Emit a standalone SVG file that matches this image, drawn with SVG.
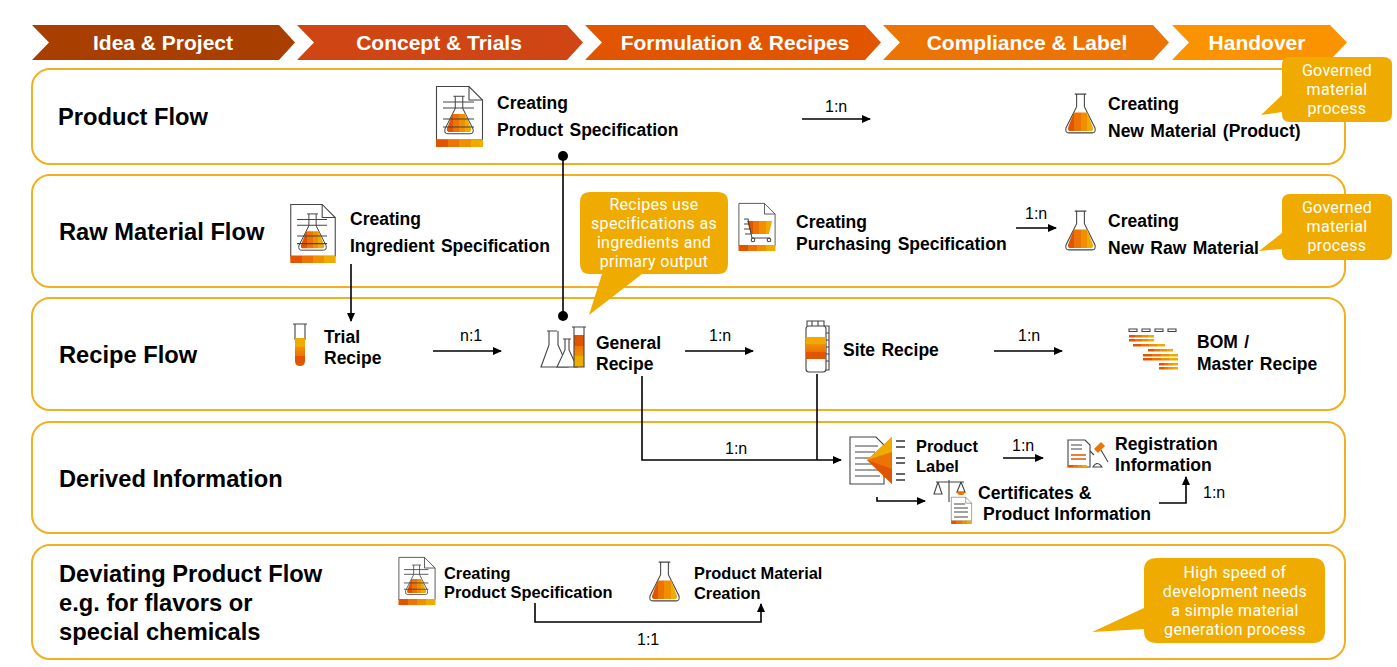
<svg xmlns="http://www.w3.org/2000/svg" width="1397" height="667" viewBox="0 0 1397 667">
<style>
text{font-family:"Liberation Sans",Arial,sans-serif;fill:#000}
.h{font-size:21px;font-weight:700;fill:#fff;text-anchor:middle}
.t{font-size:23.700px;font-weight:700}
.b{font-size:17.500px;font-weight:700;word-spacing:1.500px}
.s{font-size:16.400px;font-weight:700}
.w{font-size:17.600px;font-weight:700}
.r{font-size:16px}
.c{font-family:Roboto,"Noto Sans",sans-serif;font-size:16px;letter-spacing:.3px;fill:#fff;text-anchor:middle}
.p{fill:#fff;stroke:#f0b020;stroke-width:2}
.k{fill:#f0ab00}
.l{fill:none;stroke:#000;stroke-width:1.6}
.o{fill:#fff;stroke:#444;stroke-width:1.100}
.i{fill:none;stroke:#444;stroke-width:1.100}
</style>
<defs>
<marker id="a" markerWidth="9" markerHeight="9" refX="8" refY="4" orient="auto" markerUnits="userSpaceOnUse"><path d="M0 0L9 4L0 8z" fill="#000"/></marker>
<marker id="d" markerWidth="12" markerHeight="12" refX="6" refY="6" orient="auto" markerUnits="userSpaceOnUse"><circle cx="6" cy="6" r="5" fill="#000"/></marker>
<linearGradient id="g"><stop offset="0" stop-color="#e25500"/><stop offset=".25" stop-color="#e25500"/><stop offset=".25" stop-color="#ec7404"/><stop offset=".5" stop-color="#ec7404"/><stop offset=".5" stop-color="#f09000"/><stop offset=".75" stop-color="#f09000"/><stop offset=".75" stop-color="#f0ab00"/><stop offset="1" stop-color="#f0ab00"/></linearGradient>
<linearGradient id="v" x2="0" y2="1"><stop offset="0" stop-color="#f0ab00"/><stop offset=".33" stop-color="#f0ab00"/><stop offset=".33" stop-color="#f09000"/><stop offset=".66" stop-color="#ec7404"/><stop offset=".66" stop-color="#e25500"/><stop offset="1" stop-color="#e25500"/></linearGradient>
<symbol id="flask" viewBox="0 0 32 42" overflow="visible">
<path class="o" d="M10 1H22M12 1V14L1 36Q0 41 4 41H28Q32 41 31 36L20 14V1"/>
<path d="M9 20H23L29 36Q29 39 27 39H5Q3 39 3 36z" fill="url(#g)"/>
</symbol>
<symbol id="doc" viewBox="0 0 47 61" overflow="visible">
<path class="o" d="M0.500 0.500H33L46.500 14V54H0.500z"/><path class="i" d="M33 0.500V14H46.500"/>
<path d="M0 53.500H47V61H0z" fill="url(#g)"/>
</symbol>
<symbol id="specdoc" viewBox="0 0 47 61" overflow="visible">
<use href="#doc" width="47" height="61"/>
<use href="#flask" x="8" y="9" width="30" height="40"/>
<path class="i" d="M7 16H38M7 22H38M7 33H38M7 41H38" stroke-width=".8"/>
</symbol>
</defs>

<g id="banner">
<path d="M32 25H279L295 42.500L279 60H32L49 42.500z" fill="#a83f00"/>
<path d="M297 25H567L583 42.500L567 60H297L314 42.500z" fill="#d04514"/>
<path d="M585 25H865L881 42.500L865 60H585L602 42.500z" fill="#e25500"/>
<path d="M883 25H1153L1169 42.500L1153 60H883L900 42.500z" fill="#ec7404"/>
<path d="M1172 25H1330L1347 42.500L1330 60H1172L1189 42.500z" fill="#fb9300"/>
<text class="h" x="163" y="50">Idea &amp; Project</text>
<text class="h" x="439" y="50">Concept &amp; Trials</text>
<text class="h" x="735" y="50">Formulation &amp; Recipes</text>
<text class="h" x="1027" y="50">Compliance &amp; Label</text>
<text class="h" x="1257" y="50">Handover</text>
</g>

<g id="panels">
<rect class="p" x="32" y="69" width="1313" height="95" rx="18"/>
<rect class="p" x="32" y="175" width="1313" height="112" rx="18"/>
<rect class="p" x="32" y="298" width="1313" height="112" rx="18"/>
<rect class="p" x="32" y="422" width="1313" height="111" rx="18"/>
<rect class="p" x="32" y="545" width="1313" height="114" rx="18"/>
<text class="t" x="58" y="125">Product Flow</text>
<text class="t" x="59" y="240">Raw Material Flow</text>
<text class="t" x="59" y="363">Recipe Flow</text>
<text class="t" x="59" y="487">Derived Information</text>
<text class="t" x="59" y="582">Deviating Product Flow</text>
<text class="t" x="59" y="611">e.g. for flavors or</text>
<text class="t" x="59" y="640">special chemicals</text>
</g>

<g id="connectors">
<path class="l" d="M563 156V316" marker-start="url(#d)" marker-end="url(#d)"/>
<path class="l" d="M802 119H870" marker-end="url(#a)"/>
<path class="l" d="M351 264V321" marker-end="url(#a)"/>
<path class="l" d="M1016 228H1056" marker-end="url(#a)"/>
<path class="l" d="M433 351H501" marker-end="url(#a)"/>
<path class="l" d="M685 351H753" marker-end="url(#a)"/>
<path class="l" d="M994 351H1062" marker-end="url(#a)"/>
<path class="l" d="M642 376V460H841" marker-end="url(#a)"/>
<path class="l" d="M817 374V460"/>
<path class="l" d="M1003 458H1043" marker-end="url(#a)"/>
<path class="l" d="M877 497V501H925" marker-end="url(#a)"/>
<path class="l" d="M1159 503H1186V477" marker-end="url(#a)"/>
<path class="l" d="M535 603V622H761V604" marker-end="url(#a)"/>
<text class="r" x="825" y="112">1:n</text>
<text class="r" x="1025" y="219">1:n</text>
<text class="r" x="460" y="341">n:1</text>
<text class="r" x="709" y="341">1:n</text>
<text class="r" x="1018" y="341">1:n</text>
<text class="r" x="725" y="454">1:n</text>
<text class="r" x="1012" y="451">1:n</text>
<text class="r" x="1203" y="498">1:n</text>
<text class="r" x="637" y="645">1:1</text>
</g>

<g id="product-spec">
<use href="#specdoc" x="436" y="86" width="47" height="61"/>
<text class="b" x="497" y="109">Creating</text>
<text class="b" x="497" y="136">Product Specification</text>
</g>
<g id="new-material">
<use href="#flask" x="1065" y="93" width="31" height="41"/>
<text class="b" x="1108" y="110">Creating</text>
<text class="b" x="1108" y="137">New Material (Product)</text>
</g>
<g id="ingredient-spec">
<use href="#specdoc" x="290" y="204" width="46" height="59"/>
<text class="b" x="350" y="225">Creating</text>
<text class="b" x="350" y="252">Ingredient Specification</text>
</g>
<g id="purchasing-spec">
<use href="#doc" x="738" y="203" width="38" height="48"/>
<path d="M747 221H772L769 234H751z" fill="url(#g)"/>
<path class="i" d="M744 219H748L752 238H770M749 224H744M750 229H744M751 234H745"/>
<circle class="i" cx="753" cy="240" r="1.800"/><circle class="i" cx="769" cy="240" r="1.800"/>
<text class="b" x="796" y="228">Creating</text>
<text class="b" x="796" y="250">Purchasing Specification</text>
</g>
<g id="new-raw-material">
<use href="#flask" x="1065" y="210" width="31" height="41"/>
<text class="b" x="1108" y="227">Creating</text>
<text class="b" x="1108" y="254">New Raw Material</text>
</g>
<g id="trial-recipe">
<path class="i" d="M293 324H307M295 324V340M305 324V340"/>
<path d="M295 338H305V361Q305 366 300 366Q295 366 295 361z" fill="url(#v)"/>
<text class="b" x="324" y="343">Trial</text>
<text class="b" x="324" y="364">Recipe</text>
</g>
<g id="general-recipe">
<path class="o" d="M547 331H557M549 331V345L541 367H568L558 345V331"/>
<path class="o" d="M563 339H571M565 339V350L557 367H577L569 350V339"/>
<path d="M574 335H584V367H574z" fill="url(#v)" transform="rotate(180 579 351)"/>
<path class="i" d="M572 327H586M574 327V367H584V327"/>
<text class="b" x="596" y="349">General</text>
<text class="b" x="596" y="370">Recipe</text>
</g>
<g id="site-recipe">
<path class="i" d="M807 326V321H824V326M812 321V326M818 321V326M824 326H829V370H824M824 333H829M824 340H829M824 347H829M824 354H829M824 361H829"/>
<rect class="o" x="806" y="326" width="20" height="46" rx="3"/>
<path d="M806 337H826V359H806z" fill="url(#v)"/>
<text class="b" x="843" y="356">Site Recipe</text>
</g>
<g id="bom">
<path class="o" d="M1129 329h8v2.500h-8zM1142 329h8v2.500h-8zM1155 329h8v2.500h-8zM1168 329h8v2.500h-8z" fill="#ddd"/>
<g fill="url(#g)">
<rect x="1129" y="335" width="25" height="2.500"/><rect x="1129" y="339" width="25" height="2.500"/>
<rect x="1133" y="344" width="32" height="2.500"/>
<rect x="1148" y="349" width="25" height="2.500"/><rect x="1143" y="354" width="35" height="2.500"/>
<rect x="1143" y="358" width="35" height="2.500"/><rect x="1159" y="363" width="19" height="2.500"/>
<rect x="1159" y="367" width="19" height="2.500"/>
</g>
<text class="b" x="1197" y="348">BOM /</text>
<text class="b" x="1197" y="370">Master Recipe</text>
</g>
<g id="product-label">
<path class="o" d="M850 437H876L884 445V484H850z"/>
<path class="i" d="M855 446H878M855 452H875M855 458H875M855 464H878M855 470H880M855 476H880"/>
<path d="M892 437V484L867 460z" fill="#ec7404"/><path d="M892 437V452L867 460z" fill="#f0ab00"/><path d="M892 469V484L867 460z" fill="#e25500"/>
<path d="M896 441H905M896 447H905M896 458H905M896 463H905M896 474H905M896 480H905" stroke="#333" stroke-width="1.400" fill="none"/>
<text class="s" x="916" y="452">Product</text>
<text class="s" x="916" y="472">Label</text>
</g>
<g id="registration">
<path class="o" d="M1068 440H1085L1090 445V467H1068z"/>
<path class="i" d="M1071 445H1082M1071 449H1082"/>
<path d="M1071 455H1086M1071 459H1086" stroke="#e25500" stroke-width="1.500"/>
<path d="M1068 465H1087V467H1068z" fill="url(#g)"/>
<path d="M1094 449L1101 442L1105 446L1098 453z" fill="#ec7404"/>
<path class="i" d="M1090 451L1094 455M1101 450L1108 462M1093 467Q1097 460 1102 467z"/>
<text class="w" x="1115" y="450">Registration</text>
<text class="w" x="1115" y="471">Information</text>
</g>
<g id="certificates">
<path class="i" d="M949 480V502M936 482H964M938 482L934 494H942L938 482M961 482L957 492H965L961 482"/>
<path d="M956 492H966L963 495H959z" fill="#ec7404"/>
<use href="#doc" x="950" y="497" width="23" height="27"/>
<path class="i" d="M954 504H965M954 508H968M954 512H968M954 517H968" stroke-width=".8"/>
<text class="w" x="978" y="499">Certificates &amp;</text>
<text class="w" x="983" y="520">Product Information</text>
</g>
<g id="deviating-spec">
<use href="#specdoc" x="398" y="557" width="38" height="48"/>
<text class="s" x="444" y="579">Creating</text>
<text class="s" x="444" y="598">Product Specification</text>
</g>
<g id="product-material">
<use href="#flask" x="649" y="561" width="31" height="41"/>
<text class="s" x="694" y="579">Product Material</text>
<text class="s" x="694" y="599">Creation</text>
</g>

<g id="callout-1">
<path class="k" d="M1290 57H1383Q1392 57 1392 65V114Q1392 122 1383 122H1290Q1282 122 1282 114V112L1261 115L1282 95V65Q1282 57 1290 57z"/>
<text class="c" x="1337" y="76">Governed</text><text class="c" x="1337" y="95">material</text><text class="c" x="1337" y="114">process</text>
</g>
<g id="callout-2">
<path class="k" d="M1282 194H1383Q1392 194 1392 202V252Q1392 260 1383 260H1290Q1282 260 1282 252V249L1259 251L1282 233V202Q1282 194 1290 194z"/>
<text class="c" x="1337" y="213">Governed</text><text class="c" x="1337" y="232">material</text><text class="c" x="1337" y="251">process</text>
</g>
<g id="callout-3">
<path class="k" d="M590 192H718Q728 192 728 202V264Q728 274 718 274H642L589 315L602 274H590Q580 274 580 264V202Q580 192 590 192z"/>
<text class="c" x="654" y="210">Recipes use</text><text class="c" x="654" y="229">specifications as</text><text class="c" x="654" y="248">ingredients and</text><text class="c" x="654" y="267">primary output</text>
</g>
<g id="callout-4">
<path class="k" d="M1157 558H1313Q1325 558 1325 570V631Q1325 643 1313 643H1157Q1144 643 1144 631V629L1092 632L1144 608V570Q1144 558 1157 558z"/>
<text class="c" x="1235" y="578">High speed of</text><text class="c" x="1235" y="597">development needs</text><text class="c" x="1235" y="616">a simple material</text><text class="c" x="1235" y="635">generation process</text>
</g>
</svg>
